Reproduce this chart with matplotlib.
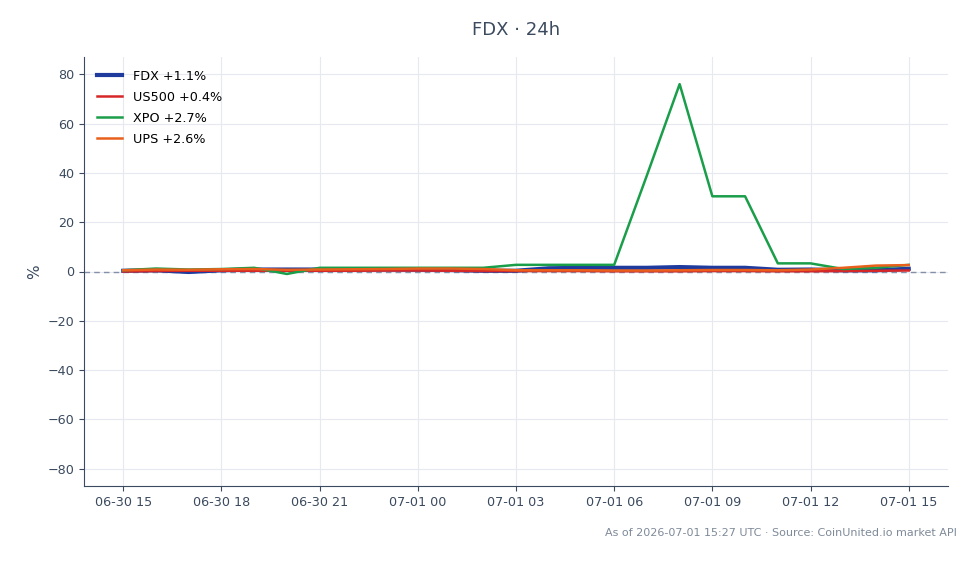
import numpy as np
import pandas as pd
import matplotlib
matplotlib.use("Agg")
import matplotlib.pyplot as plt
import matplotlib.dates as mdates

# hourly % change over the last 24h
times = pd.date_range("2026-06-30 15:00", "2026-07-01 15:00", freq="h")

fdx = [0.3, 0.5, -0.2, 0.5, 0.8, 0.8, 0.8, 0.8, 0.8, 0.7, 0.6, 0.3, 0.3,
       1.3, 1.5, 1.5, 1.5, 1.8, 1.5, 1.5, 0.7, 0.8, 0.5, 0.5, 1.1]
us500 = [0.0, 0.2, 0.3, 0.3, 0.3, 0.3, 0.3, 0.3, 0.4, 0.4, 0.3, 0.2, 0.2,
         0.2, 0.2, 0.1, 0.1, 0.1, 0.2, 0.2, 0.1, 0.1, 0.2, 0.3, 0.4]
xpo = [0.5, 1.2, 0.8, 1.0, 1.5, -1.0, 1.5, 1.5, 1.5, 1.5, 1.5, 1.5, 2.7,
       2.7, 2.7, 2.7, 39.0, 76.0, 30.5, 30.5, 3.3, 3.3, 1.0, 1.5, 2.7]
ups = [0.5, 0.8, 0.7, 0.9, 1.0, 0.7, 0.8, 0.9, 1.0, 1.2, 1.2, 1.0, 0.5,
       0.5, 0.5, 0.4, 0.4, 0.5, 0.6, 0.6, 0.5, 0.8, 1.5, 2.4, 2.6]

series = [
    ("FDX +1.1%", fdx, "#1f3b9e", 3.0),
    ("US500 +0.4%", us500, "#d62728", 1.8),
    ("XPO +2.7%", xpo, "#1a9e4a", 1.8),
    ("UPS +2.6%", ups, "#e8601c", 1.8),
]

fig = plt.figure(figsize=(9.79, 5.64), dpi=100)
ax = fig.add_axes([84 / 979, 1 - 486 / 564, (948 - 84) / 979, (486 - 57) / 564])

ax.axhline(0, color="#8390a8", linestyle=(0, (4, 3)), linewidth=1, zorder=1)

for label, vals, color, lw in series:
    ax.plot(times, vals, color=color, linewidth=lw, label=label, zorder=2)

ax.set_ylim(-87, 87)
ax.set_yticks(np.arange(-80, 81, 20))
ax.yaxis.set_major_formatter(plt.FuncFormatter(lambda v, p: f"{v:.0f}".replace("-", "\u2212")))
ax.xaxis.set_major_locator(mdates.HourLocator(byhour=range(0, 24, 3)))
ax.xaxis.set_major_formatter(mdates.DateFormatter("%m-%d %H"))

ax.grid(True, color="#e6e9ef", linewidth=0.8, zorder=0)
ax.set_axisbelow(True)
for side in ("top", "right"):
    ax.spines[side].set_visible(False)
for side in ("left", "bottom"):
    ax.spines[side].set_color("#3b4a5e")
ax.tick_params(colors="#3b4a5e", labelsize=9.2)
ax.set_ylabel("%", color="#3b4a5e", fontsize=11)

ax.set_title("FDX \u00b7 24h", color="#3b4a5e", fontsize=13, pad=16)
ax.legend(loc="upper left", frameon=False, fontsize=9.2, labelspacing=0.62,
          borderaxespad=0.6)

fig.text(0.977, 0.055, "As of 2026-07-01 15:27 UTC \u00b7 Source: CoinUnited.io market API",
         ha="right", va="center", fontsize=8, color="#7f8a99")

fig.savefig("out.png", dpi=100)
